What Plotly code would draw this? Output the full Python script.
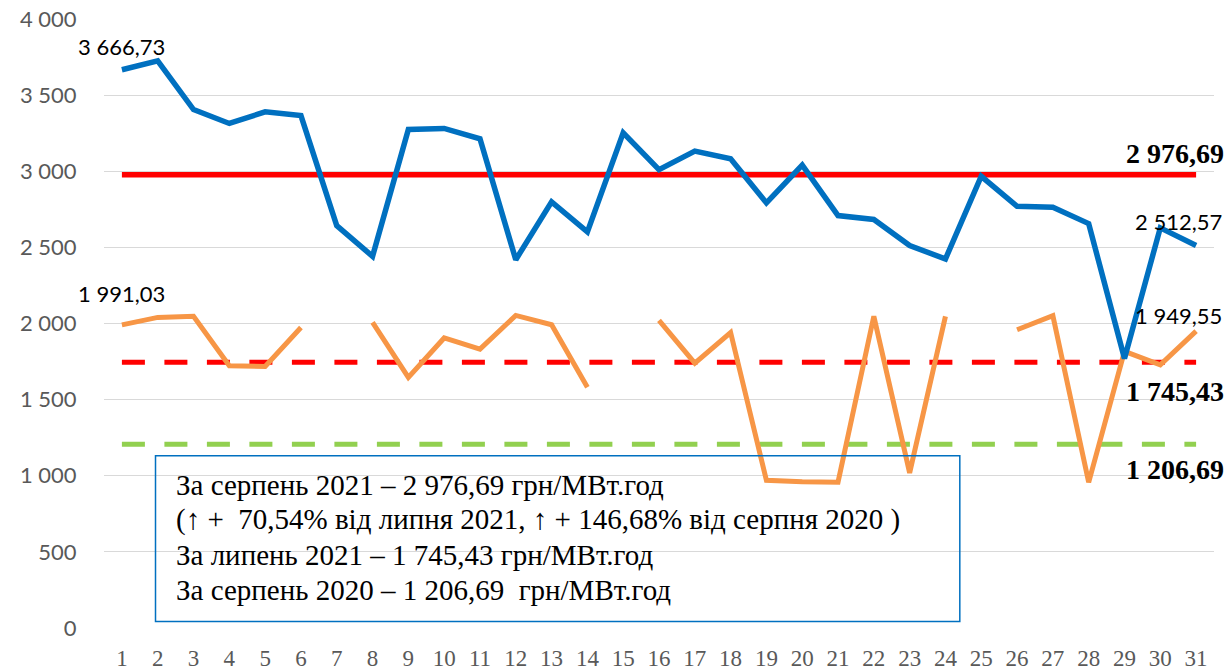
import plotly.graph_objects as go

# Day of month
days = list(range(1, 32))

# Daily prices, August 2021 (UAH/MWh)
aug_2021 = [3666.73, 3725, 3405, 3314, 3390, 3366, 2643, 2441, 3274, 3281,
            3213, 2419, 2799, 2602, 3252, 3011, 3132, 3082, 2792, 3040,
            2709, 2683, 2512, 2424, 2967, 2770, 2763, 2656, 1770, 2628,
            2512.57]

# Daily prices, August 2020 (UAH/MWh); None = no data for that day
aug_2020 = [1991.03, 2040, 2047, 1722, 1718, 1974, None, 2007, 1646, 1905,
            1832, 2053, 1992, 1582, None, 2020, 1740, 1941, 970, 960,
            958, 2047, 1019, 2047, None, 1959, 2051, 957, 1817, 1729,
            1949.55]

# Monthly averages
avg_aug_2021 = 2976.69
avg_jul_2021 = 1745.43
avg_aug_2020 = 1206.69

y_ticks = [0, 500, 1000, 1500, 2000, 2500, 3000, 3500, 4000]
y_tick_text = ["0", "500", "1 000", "1 500", "2 000", "2 500", "3 000", "3 500", "4 000"]

box_lines = [
    "За серпень 2021 – 2 976,69 грн/МВт.год",
    "(↑ +  70,54% від липня 2021, ↑ + 146,68% від серпня 2020 )",
    "За липень 2021 – 1 745,43 грн/МВт.год",
    "За серпень 2020 – 1 206,69  грн/МВт.год",
]


def fmt(v):
    s = f"{v:,.2f}"
    return s.replace(",", " ").replace(".", ",")


BLUE = "#0070C0"
ORANGE = "#F79646"
RED = "#FF0000"
GREEN = "#92D050"
SERIF = "Liberation Serif, Times New Roman, serif"
SANS = "Lato, Carlito, sans-serif"

fig = go.Figure()

fig.add_trace(go.Scatter(x=days, y=[avg_aug_2020] * len(days), mode="lines",
                         line=dict(color=GREEN, width=5, dash="23px,19.5px")))
fig.add_trace(go.Scatter(x=days, y=[avg_jul_2021] * len(days), mode="lines",
                         line=dict(color=RED, width=5, dash="23px,19.5px")))
fig.add_trace(go.Scatter(x=days, y=[avg_aug_2021] * len(days), mode="lines",
                         line=dict(color=RED, width=5.5)))
fig.add_trace(go.Scatter(x=days, y=aug_2020, mode="lines", connectgaps=False,
                         line=dict(color=ORANGE, width=5)))
fig.add_trace(go.Scatter(x=days, y=aug_2021, mode="lines",
                         line=dict(color=BLUE, width=5.5)))

label_font = dict(family=SANS, size=22, color="#000000")
bold_font = dict(family=SERIF, size=28, color="#000000")

annotations = [
    dict(x=days[0], y=aug_2021[0], text=fmt(aug_2021[0]), yshift=23, font=label_font),
    dict(x=days[0], y=aug_2020[0], text=fmt(aug_2020[0]), yshift=31, font=label_font),
    dict(x=days[-1], y=aug_2021[-1], text=fmt(aug_2021[-1]), xshift=-18, yshift=24, font=label_font),
    dict(x=days[-1], y=aug_2020[-1], text=fmt(aug_2020[-1]), xshift=-18, yshift=16, font=label_font),
    dict(x=days[-1], y=avg_aug_2021, text="<b>" + fmt(avg_aug_2021) + "</b>", xshift=-21, yshift=21, font=bold_font),
    dict(x=days[-1], y=avg_jul_2021, text="<b>" + fmt(avg_jul_2021) + "</b>", xshift=-21, yshift=-29, font=bold_font),
    dict(x=days[-1], y=avg_aug_2020, text="<b>" + fmt(avg_aug_2020) + "</b>", xshift=-21, yshift=-25, font=bold_font),
]
for a in annotations:
    a.update(xref="x", yref="y", showarrow=False, xanchor="center", yanchor="middle")

# Summary text box
box_font = dict(family=SERIF, size=29, color="#000000")
line_pos = [0.235, 0.1775, 0.12, 0.0625]
for txt, yp in zip(box_lines, line_pos):
    annotations.append(dict(xref="paper", yref="paper", x=0.0635, y=yp, text=txt,
                            showarrow=False, xanchor="left", yanchor="middle",
                            font=box_font))

fig.update_layout(
    width=1231, height=670,
    margin=dict(l=104, r=17, t=19, b=42, autoexpand=False),
    paper_bgcolor="white", plot_bgcolor="white",
    showlegend=False,
    annotations=annotations,
    shapes=[dict(type="rect", xref="paper", yref="paper",
                 x0=0.0464, x1=0.771, y0=0.0105, y1=0.283,
                 line=dict(color=BLUE, width=1.5), fillcolor="rgba(0,0,0,0)",
                 layer="above")],
)

fig.update_xaxes(range=[0.5, 31.5], tickvals=days, ticktext=[str(d) for d in days],
                 showgrid=False, zeroline=False, showline=False, automargin=False,
                 ticks="outside", ticklen=9, tickcolor="rgba(0,0,0,0)",
                 tickfont=dict(family=SERIF, size=23, color="#595959"))
fig.update_yaxes(range=[0, 4000], tickvals=y_ticks, ticktext=y_tick_text,
                 showgrid=True, gridcolor="#D9D9D9", gridwidth=1.3,
                 zeroline=False, showline=False, automargin=False,
                 ticks="outside", ticklen=22, tickcolor="rgba(0,0,0,0)",
                 tickfont=dict(family=SANS, size=22, color="#595959"))

fig.write_html("out.html")
